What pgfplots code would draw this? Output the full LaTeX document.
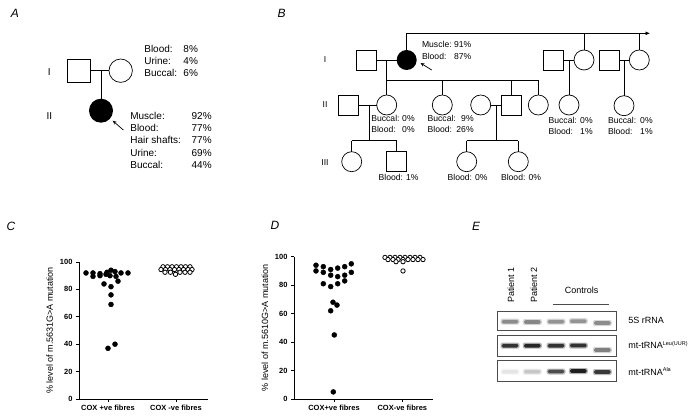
\documentclass[border=0pt]{standalone}
\usepackage{pgfplots}
\pgfplotsset{compat=1.18}
\usepackage{fontspec}
\setmainfont{Liberation Sans}
\usetikzlibrary{arrows.meta}
\newcommand\fs[1]{\fontsize{#1}{#1}\selectfont}
\begin{document}
\begin{tikzpicture}
\path[use as bounding box] (0,0) rectangle (697pt,-417pt);
\begin{scope}[x=1pt,y=-1pt, line width=0.7pt]
\tikzset{plab/.style={font=\fs{12}\itshape, inner sep=0pt},
  ta/.style={font=\fs{10}, inner sep=0pt},
  tb/.style={font=\fs{8.6}, inner sep=0pt}}
% panel labels
\node[plab] at (15,13) {A};
\node[plab] at (281.7,13) {B};
\node[plab] at (11,226) {C};
\node[plab] at (275,225) {D};
\node[plab] at (476,226) {E};
% ---------- pedigree A
\node[ta] at (49.3,71.7) {I};
\node[ta] at (49.3,115.7) {II};
\draw (67.7,59.3) rectangle (90.7,82);
\draw (120.7,70.7) circle (11.7);
\draw (90.7,70.7) -- (109,70.7);
\draw (101,70.7) -- (101,99);
\fill (101,110.7) circle (12);
\draw[-{Stealth[length=4pt,width=3.5pt]}] (123.3,130) -- (112.7,120.7);
\foreach \l/\p/\y in {Blood:/8\%/49, Urine:/4\%/61, Buccal:/6\%/72.7}{
  \node[ta, anchor=base west] at (144,\y+3.5) {\l};
  \node[ta, anchor=base east] at (198.3,\y+3.5) {\p};}
\foreach \l/\p/\y in {Muscle:/92\%/116, Blood:/77\%/128.3, Hair shafts:/77\%/140.5, Urine:/69\%/152.7, Buccal:/44\%/165}{
  \node[ta, anchor=base west] at (130,\y+3.5) {\l};
  \node[ta, anchor=base east] at (212,\y+3.5) {\p};}
% ---------- pedigree B
\node[tb] at (325,60) {I};
\node[tb] at (325,105) {II};
\node[tb] at (325,162.3) {III};
\draw[-{Latex[length=4.5pt,width=4pt]}] (406.7,33.3) -- (650,33.3);
\draw (406.7,33.3) -- (406.7,50);
\draw (584,33.3) -- (584,50);
\draw (639.3,33.3) -- (639.3,50);
% gen I
\draw (356.7,50) rectangle (376.7,70);
\fill (406.7,60) circle (10);
\draw (376.7,60) -- (396.7,60);
\draw (386.7,60) -- (386.7,80);
\draw (386.7,80) -- (538.3,80);
\foreach \x in {386.7,442.3,511.7,538.3}{\draw (\x,80) -- (\x,95);}
\draw[-{Stealth[length=4pt,width=3.5pt]}] (431.7,70) -- (420.5,63);
\node[tb, anchor=base west] at (421.7,48) {Muscle:};
\node[tb, anchor=base east] at (471.7,48) {91\%};
\node[tb, anchor=base west] at (421.7,59.2) {Blood:};
\node[tb, anchor=base east] at (471.7,59.2) {87\%};
\draw (543.3,50) rectangle (563.3,70);
\draw (584,60) circle (10);
\draw (563.3,60) -- (574,60);
\draw (569,60) -- (569,95);
\draw (569,105) circle (10);
\draw (599.3,50) rectangle (619.3,70);
\draw (639.3,60) circle (10);
\draw (619.3,60) -- (629.3,60);
\draw (624,60) -- (624,95.7);
\draw (624,105.7) circle (10);
% gen II
\draw (338.3,95) rectangle (358.3,115);
\draw (386.7,105) circle (10);
\draw (358.3,105) -- (376.7,105);
\draw (369,105) -- (369,140.7);
\draw (351.7,140.7) -- (396.7,140.7);
\draw (351.7,140.7) -- (351.7,151.7);
\draw (396.7,140.7) -- (396.7,151.7);
\draw (442.3,105) circle (10);
\draw (480.7,105) circle (10);
\draw (501.7,95) rectangle (521.7,115);
\draw (490.7,105) -- (501.7,105);
\draw (496,105) -- (496,140.7);
\draw (466.7,140.7) -- (518.3,140.7);
\draw (466.7,140.7) -- (466.7,151.7);
\draw (518.3,140.7) -- (518.3,151.7);
\draw (538.3,105) circle (10);
% gen III
\draw (351.7,161.7) circle (10);
\draw (386.7,151.7) rectangle (406.7,171.7);
\draw (466.7,161.7) circle (10);
\draw (518.3,161.7) circle (10);
% texts B
\foreach \x/\r/\a/\b/\y in {371/415/0/0/119, 427.3/474/9/26/119, 548.3/593/0/1/121, 607.7/653/0/1/121}{
  \node[tb, anchor=base west] at (\x,\y+3) {Buccal:};
  \node[tb, anchor=base east] at (\r,\y+3) {\a\%};
  \node[tb, anchor=base west] at (\x,\y+14) {Blood:};
  \node[tb, anchor=base east] at (\r,\y+14) {\b\%};}
\node[tb, anchor=base west] at (378.3,180.7) {Blood: 1\%};
\node[tb, anchor=base west] at (447.3,180.7) {Blood: 0\%};
\node[tb, anchor=base west] at (500.7,180.7) {Blood: 0\%};
% ---------- gel E
\node[font=\fs{9}, rotate=90, inner sep=0pt] at (511,285) {Patient 1};
\node[font=\fs{9}, rotate=90, inner sep=0pt] at (534,285) {Patient 2};
\node[font=\fs{9}, inner sep=0pt] at (581.7,290) {Controls};
\draw[gray!60!black] (553,304) -- (609,304);
\foreach \x/\y/\c in {510/321.7/45, 532.3/322/47, 556/321.7/42, 578.3/321.2/42, 602.3/323/45,
   510/345.7/80, 532.3/345.7/85, 556/345.7/80, 578.3/345.5/80, 602.3/350/50,
   510/371.7/10, 532.3/371.7/22, 556/371.5/70, 578.3/371/88, 602.3/372/78}{
  \fill[black!\c, opacity=0.35, rounded corners=2pt] (\x-9.5,\y-3) rectangle (\x+9.5,\y+3);
  \fill[black!\c, rounded corners=1.5pt] (\x-8.3,\y-1.9) rectangle (\x+8.3,\y+1.9);}
\draw[gray!60!black, line width=0.9pt] (497.7,311.7) rectangle (616.7,330.7);
\draw[gray!60!black, line width=0.9pt] (497.7,335) rectangle (616.7,356);
\draw[gray!60!black, line width=0.9pt] (497.7,360) rectangle (616.7,381);
\node[font=\fs{9}, anchor=west, inner sep=0pt] at (628,320.7) {5S rRNA};
\node[font=\fs{9}, anchor=west, inner sep=0pt] at (628,345) {mt-tRNA\textsuperscript{\fs{5.5}Leu(UUR)}};
\node[font=\fs{9}, anchor=west, inner sep=0pt] at (628,371.5) {mt-tRNA\textsuperscript{\fs{5.5}Ala}};
\end{scope}
% ---------- axes
\pgfplotsset{prism/.style={
  anchor=south west, scale only axis, ymin=0, ymax=100,
  axis lines*=left, axis line style={line width=0.9pt},
  ytick={0,20,...,100}, tick align=outside, major tick length=3pt,
  tick style={line width=0.8pt, black},
  tick label style={font=\fs{7.5}\bfseries},
  /pgf/number format/assume math mode=true,
  ylabel style={font=\fs{9}},
  clip=false}}
\begin{axis}[prism, at={(79pt,-399pt)}, width=129pt, height=137pt,
  xmin=79, xmax=208, xtick={108,176}, xticklabels={COX +ve fibres, COX -ve fibres},
  ylabel={\% level of m.5631G>A mutation}]
\addplot[only marks, mark=*, mark size=2.5pt, black] coordinates {
(86,92)(93,92)(100,91.5)(107,92.5)(111,94)(115,93)(121,92)(128,92)
(93,89.5)(100,90)(106,91)(110,90)(116,89.5)
(104,84)(118,86)(111,82)(111,76)(111,69)(115,40)(108,37)};
\addplot[only marks, mark=*, mark size=2.2pt, draw=black, fill=white, line width=0.8pt] coordinates {
(163,96.5)(167.5,96.5)(172,96.5)(176.5,96.5)(181,96.5)(185.5,96.5)(190,96.5)
(161,94.5)(165.5,94.5)(170,94.5)(174.5,94.5)(179,94.5)(183.5,94.5)(188,94.5)(192,94.5)
(165,92.5)(170.5,92.5)(180,92.5)(185,92.5)(190,92.5)(175.5,91)};
\end{axis}
\begin{axis}[prism, at={(294pt,-399pt)}, width=139pt, height=142.3pt,
  xmin=294, xmax=433, xtick={334,402.3}, xticklabels={COX+ve fibres, COX-ve fibres},
  ylabel={\% level of m.5610G>A mutation}]
\addplot[only marks, mark=*, mark size=2.5pt, black] coordinates {
(316,94)(323.3,93)(330.7,91)(337.7,92)(344.7,93)(351.3,95)
(316,90)(323.3,89)(330.7,87)(337.7,86)(344.7,87)(351.3,89)
(323.3,81)(330.7,79)(337.7,81)(344.7,83)
(333,68)(337,66)(330.7,62)(334.3,45)(333.3,5)};
\addplot[only marks, mark=*, mark size=2.2pt, draw=black, fill=white, line width=0.8pt] coordinates {
(385,99.5)(390,99.5)(395,99.5)(400,99.5)(405,99.5)(410,99.5)(415,99.5)(420,99.5)
(388,98)(393,98)(398,98)(403,98)(408,98)(413,98)(418,98)(423,98)
(396,96.5)(403,96.5)(403,90)};
\end{axis}
\end{tikzpicture}
\end{document}
